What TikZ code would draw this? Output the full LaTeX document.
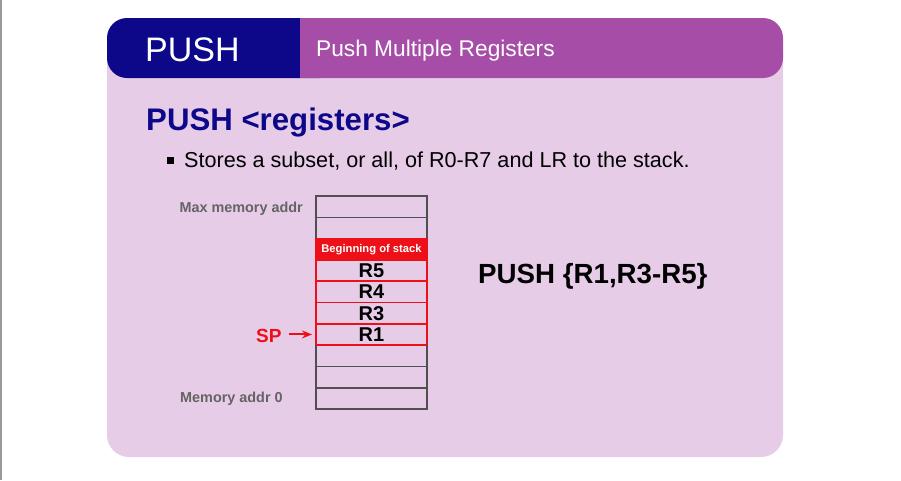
\documentclass[tikz,border=0pt]{standalone}
\usepackage{fontspec}
\setmainfont{Liberation Sans}
\usetikzlibrary{positioning,arrows.meta}

\definecolor{headnavy}{RGB}{12,8,137}
\definecolor{headpurple}{RGB}{166,77,168}
\definecolor{bodypink}{RGB}{231,204,231}
\definecolor{addrgray}{RGB}{100,100,100}
\definecolor{cellgray}{RGB}{80,80,80}
\definecolor{stackred}{RGB}{238,16,24}

\newcommand{\fsz}[1]{\fontsize{#1}{#1}\selectfont}

\tikzset{
  cell/.style={draw=cellgray, line width=1.6pt, minimum width=111pt, minimum height=21.3pt,
    inner sep=0pt, outer sep=0pt, font=\fsz{20}\bfseries},
  redcell/.style={cell, draw=stackred},
  addr/.style={text=addrgray, font=\fsz{14.4}\bfseries, inner sep=0pt},
  bulletsq/.style={fill=black, minimum size=7pt, inner sep=0pt}
}

\begin{document}
\begin{tikzpicture}[x=1pt, y=-1pt]
	\useasboundingbox (0,0) rectangle (901,480);
	% page edge on the left
	\draw[gray!80, line width=1.2pt] (1,0) -- (1,480);

	% 1. Slide body and header bar
	\fill[bodypink, rounded corners=22] (107,30) rectangle (783,457);
	\fill[headnavy, rounded corners=20] (107,18) rectangle (340,78);
	\fill[headpurple, rounded corners=20] (300,18) rectangle (783,78);
	\fill[headpurple] (300,18) rectangle (330,78);

	\node[white, anchor=base west, inner sep=0pt, font=\fsz{34}] (title) at (145,61) {PUSH};
	\node[white, anchor=base west, inner sep=0pt, font=\fsz{22.7}] (subtitle) at (316,56) {Push Multiple Registers};

	% 2. Syntax line and bullet
	\node[headnavy, anchor=base west, inner sep=0pt, font=\fsz{31.2}\bfseries] (syntax) at (146,130) {PUSH <registers>};
	\node[bulletsq] (blt) at (170.5,160.5) {};
	\node[anchor=base west, inner sep=0pt, font=\fsz{21.6}] (desc) at (184,167)
		{Stores a subset, or all, of R0-R7 and LR to the stack.};

	% 3. The stack, top cell first
	\node[cell] (c1) at (371.5,206.65) {};
	\node[cell, below=0pt of c1] (c2) {};
	\node[redcell, fill=stackred, text=white, font=\fsz{11.2}\bfseries, below=0pt of c2] (c3) {Beginning of stack};
	\node[redcell, below=0pt of c3] (c4) {R5};
	\node[redcell, below=0pt of c4] (c5) {R4};
	\node[redcell, below=0pt of c5] (c6) {R3};
	\node[redcell, below=0pt of c6] (c7) {R1};
	\node[cell, below=0pt of c7] (c8) {};
	\node[cell, below=0pt of c8] (c9) {};
	\node[cell, below=0pt of c9] (c10) {};
	% red edge under R1 on top again
	\draw[stackred, line width=1.6pt] (c7.south west) -- (c7.south east);

	% 4. Address labels
	\node[addr, anchor=base east] (maxaddr) at (303,212) {Max memory addr};
	\node[addr, anchor=base west] (minaddr) at (180,402) {Memory addr 0};

	% 5. Stack pointer
	\node[stackred, anchor=base west, inner sep=0pt, font=\fsz{19}\bfseries] (sp) at (256,342) {SP};
	\draw[-{Stealth[length=10pt, width=8pt]}, stackred, line width=2pt, shorten <=7pt, shorten >=4pt]
		(sp.east |- c7.west) -- (c7.west);

	% 6. Instruction example
	\node[anchor=base west, inner sep=0pt, font=\fsz{27.7}\bfseries] (example) at (478,283) {PUSH \{R1,R3-R5\}};
\end{tikzpicture}
\end{document}
